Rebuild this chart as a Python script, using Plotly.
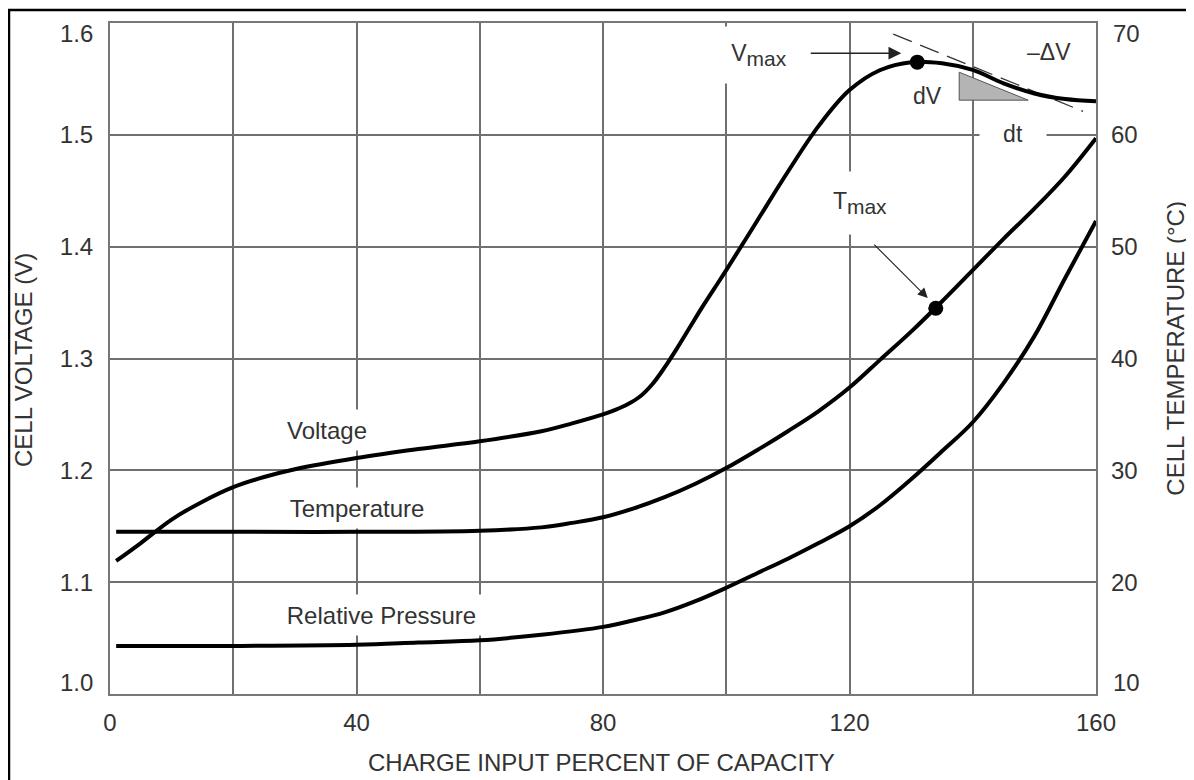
import plotly.graph_objects as go

# charge input (% of capacity) and readings along each curve
volt_x = [1, 5, 10, 15, 20, 25, 30, 40, 50, 60, 70, 75, 80, 82, 84, 86, 88, 90, 92, 94, 96, 98, 100,
          105, 110, 115, 120, 125, 130, 135, 140, 145, 150, 155, 160]
volt_v = [1.119, 1.135, 1.156, 1.172, 1.185, 1.194, 1.201, 1.211, 1.219, 1.226, 1.235, 1.242, 1.250,
          1.254, 1.259, 1.266, 1.277, 1.292, 1.309, 1.327, 1.345, 1.362, 1.379, 1.423, 1.467, 1.508,
          1.540, 1.558, 1.565, 1.564, 1.558, 1.546, 1.537, 1.532, 1.530]

temp_x = [1, 20, 40, 60, 70, 75, 80, 85, 90, 95, 100, 105, 110, 115, 120, 125, 130, 135,
          140, 145, 150, 155, 160]
temp_c = [24.5, 24.5, 24.5, 24.6, 24.9, 25.3, 25.8, 26.6, 27.6, 28.8, 30.2, 31.8, 33.5, 35.3,
          37.4, 39.9, 42.4, 45.1, 47.9, 50.7, 53.4, 56.3, 59.7]

pres_x = [1, 20, 40, 50, 60, 70, 80, 85, 90, 95, 100, 105, 110, 115, 120, 125, 130, 135,
          140, 145, 150, 155, 160]
pres_v = [1.043, 1.043, 1.044, 1.046, 1.048, 1.053, 1.060, 1.066, 1.073, 1.083, 1.095, 1.108,
          1.121, 1.135, 1.150, 1.169, 1.192, 1.217, 1.243, 1.278, 1.320, 1.372, 1.423]

vmax = (131.0, 1.565)
tmax = (134.0, 44.5)

tangent_x = [127.1, 157.9]
tangent_v = [1.590, 1.521]
tri_x = [137.8, 137.8, 149.0, 137.8]
tri_v = [1.556, 1.531, 1.531, 1.556]

x_ticks = [0, 20, 40, 60, 80, 100, 120, 140, 160]
x_labels = ['0', '', '40', '', '80', '', '120', '', '160']
v_ticks = [1.0, 1.1, 1.2, 1.3, 1.4, 1.5, 1.6]
v_labels = ['', '1.1', '1.2', '1.3', '1.4', '1.5', '']
t_ticks = [10, 20, 30, 40, 50, 60, 70]
t_labels = ['', '20', '30', '40', '50', '60', '']

FONT = 'Liberation Sans, Arial, sans-serif'
TXT = '#333333'
GRID = '#707070'

fig = go.Figure()

fig.add_trace(go.Scatter(x=tri_x, y=tri_v, mode='lines', fill='toself', fillcolor='#b4b4b4',
                         line=dict(color='#555555', width=1)))
fig.add_trace(go.Scatter(x=tangent_x, y=tangent_v, mode='lines',
                         line=dict(color='#333333', width=1.3, dash='20px,9px')))
fig.add_trace(go.Scatter(x=volt_x, y=volt_v, mode='lines', line_shape='spline',
                         line=dict(color='black', width=4)))
fig.add_trace(go.Scatter(x=pres_x, y=pres_v, mode='lines', line_shape='spline',
                         line=dict(color='black', width=4)))
fig.add_trace(go.Scatter(x=temp_x, y=temp_c, mode='lines', line_shape='spline', yaxis='y2',
                         line=dict(color='black', width=4)))
fig.add_trace(go.Scatter(x=[vmax[0]], y=[vmax[1]], mode='markers', marker=dict(color='black', size=15)))
fig.add_trace(go.Scatter(x=[tmax[0]], y=[tmax[1]], mode='markers', yaxis='y2',
                         marker=dict(color='black', size=15)))

def label(text, x, y, w=None, h=None, size=23, bg='white'):
    fig.add_annotation(x=x, y=y, xref='x', yref='y', text=text, showarrow=False,
                       font=dict(family=FONT, size=size, color=TXT), bgcolor=bg,
                       width=w, height=h, borderpad=0)

sub = '<sub><span style="font-size:21px">max</span></sub>'
label('Voltage', 35.2, 1.236, w=96, h=40, size=24)
label('Temperature', 40.1, 1.166, w=150, h=40, size=24)
label('Relative Pressure', 44.1, 1.0707, w=205, h=40, size=24)
label('V' + sub, 105.3, 1.5716, w=78, h=56)
label('T' + sub, 121.7, 1.439, w=70, h=62)
label('dt', 146.5, 1.501, w=66, h=26)
label('dV', 132.7, 1.535, bg=None)
label('\u2013\u0394V', 152.3, 1.574, bg=None)

# arrows
fig.add_annotation(x=128.4, y=1.573, xref='x', yref='y', ax=-92, ay=0, text='', showarrow=True,
                   arrowhead=2, arrowsize=1.6, arrowwidth=1.6, arrowcolor='#222222')
fig.add_annotation(x=132.7, y=45.4, xref='x', yref='y2', ax=-55, ay=-55, text='', showarrow=True,
                   arrowhead=2, arrowsize=1.8, arrowwidth=1.1, arrowcolor='#222222')

# end tick labels sit inside the frame (nudged off the corner lines)
tick_font = dict(family=FONT, size=24, color=TXT)
for val, txt, shift in [(v_ticks[0], '1.0', 12), (v_ticks[-1], '1.6', -10)]:
    fig.add_annotation(x=0, y=val, xref='paper', yref='y', text=txt, showarrow=False, xanchor='right',
                       yanchor='middle', xshift=-15, yshift=shift, font=tick_font)
for val, txt, shift in [(t_ticks[0], '10', 12), (t_ticks[-1], '70', -10)]:
    fig.add_annotation(x=1, y=val, xref='paper', yref='y2', text=txt, showarrow=False, xanchor='left',
                       yanchor='middle', xshift=15, yshift=shift, font=tick_font)

# axis titles
fig.add_annotation(x=-0.087, y=0.498, xref='paper', yref='paper', text='CELL VOLTAGE (V)', textangle=-90,
                   xanchor='center', yanchor='middle', showarrow=False,
                   font=dict(family=FONT, size=24, color=TXT))
fig.add_annotation(x=1.081, y=0.516, xref='paper', yref='paper', text='CELL TEMPERATURE (\u00b0C)',
                   textangle=-90, xanchor='center', yanchor='middle', showarrow=False,
                   font=dict(family=FONT, size=24, color=TXT))
fig.add_annotation(x=0.498, y=-0.1028, xref='paper', yref='paper', text='CHARGE INPUT PERCENT OF CAPACITY',
                   xanchor='center', yanchor='middle', showarrow=False,
                   font=dict(family=FONT, size=24, color=TXT))

# outer frame of the picture
fig.add_shape(type='rect', xref='paper', yref='paper', x0=-101 / 986, x1=1.2, y0=-0.2, y1=684 / 671,
              line=dict(color='black', width=2.5), layer='below')

# page body has an 8px margin, so the figure is shrunk and the margins shifted by it
fig.update_layout(
    width=1186, height=772,
    margin=dict(l=102, r=98, t=15, b=86),
    paper_bgcolor='white', plot_bgcolor='white',
    showlegend=False,
    font=dict(family=FONT, size=24, color=TXT),
    xaxis=dict(range=[0, 160], tickvals=x_ticks, ticktext=x_labels, showgrid=True, gridcolor=GRID,
               gridwidth=1.5, showline=True, linecolor='#777777', linewidth=2, mirror=True,
               zeroline=False, ticks='', ticklabelstandoff=6, automargin=False),
    yaxis=dict(range=[1.0, 1.6], tickvals=v_ticks, ticktext=v_labels, showgrid=True, gridcolor=GRID,
               gridwidth=1.5, showline=True, linecolor='#777777', linewidth=2, mirror=True,
               zeroline=False, ticks='', ticklabelstandoff=10, automargin=False),
    yaxis2=dict(range=[10, 70], tickvals=t_ticks, ticktext=t_labels, overlaying='y', side='right',
                showgrid=False, zeroline=False, showline=False, ticks='', ticklabelstandoff=14,
                automargin=False),
)

fig.write_html('out.html')
